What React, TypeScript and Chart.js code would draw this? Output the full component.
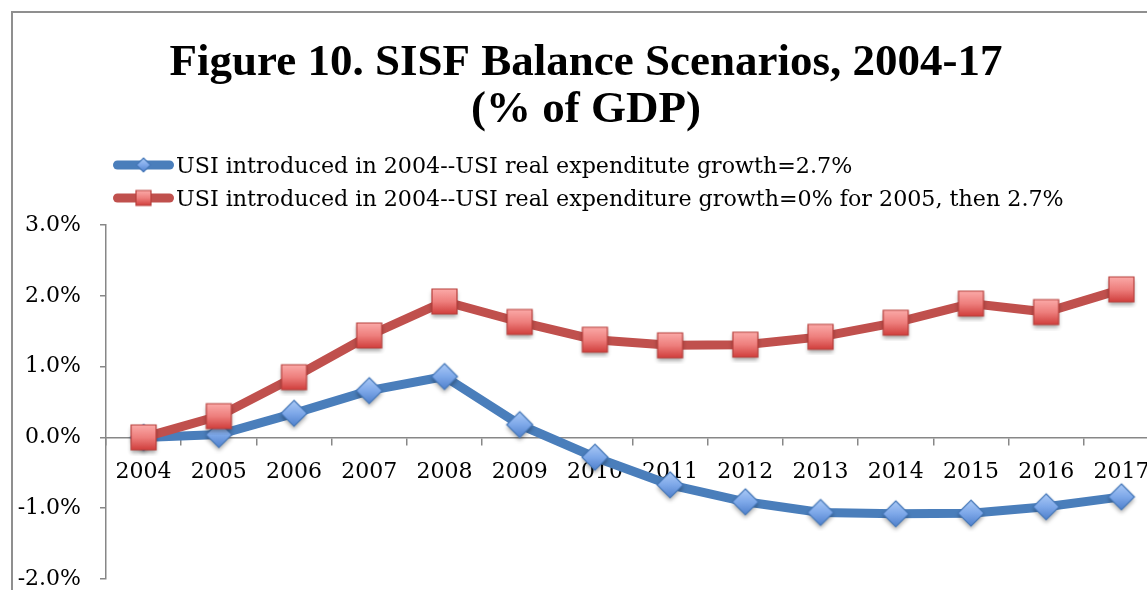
import React, { useEffect, useRef } from 'react';
import { Chart, registerables } from 'chart.js';

Chart.register(...registerables);

const years = ['2004', '2005', '2006', '2007', '2008', '2009', '2010', '2011', '2012', '2013', '2014', '2015', '2016', '2017'];
const usiGrowth = [0.0, 0.04, 0.34, 0.66, 0.86, 0.18, -0.28, -0.67, -0.91, -1.06, -1.08, -1.07, -0.98, -0.84];
const usiZeroThenGrowth = [0.0, 0.30, 0.85, 1.44, 1.92, 1.63, 1.38, 1.30, 1.31, 1.42, 1.62, 1.89, 1.77, 2.09];
const seriesLabels = [
  'USI introduced in 2004--USI real expenditute growth=2.7%',
  'USI introduced in 2004--USI real expenditure growth=0% for 2005, then 2.7%',
];
const titleLines = ['Figure 10. SISF Balance Scenarios, 2004-17', '(% of GDP)'];
const yMin = -2;
const yMax = 3;
const yStep = 1;

const BLUE = '#4a7ebb';
const RED = '#c0504d';
const AXIS = '#878787';
const SERIF = '"DejaVu Serif", serif';

type MarkerKind = 'diamond' | 'square';

function makeMarker(kind: MarkerKind, r: number, stops: string[], stroke: string, shadow: boolean) {
  const pad = 6;
  const size = Math.ceil(2 * r + 2 * pad);
  const c = document.createElement('canvas');
  c.width = size;
  c.height = size;
  const g = c.getContext('2d')!;
  const cx = size / 2;
  const path = () => {
    g.beginPath();
    if (kind === 'diamond') {
      g.moveTo(cx, cx - r);
      g.lineTo(cx + r, cx);
      g.lineTo(cx, cx + r);
      g.lineTo(cx - r, cx);
    } else {
      g.rect(cx - r, cx - r, 2 * r, 2 * r);
    }
    g.closePath();
  };
  if (shadow) {
    g.save();
    g.shadowColor = 'rgba(0,0,0,0.35)';
    g.shadowBlur = 4;
    g.shadowOffsetY = 3;
    path();
    g.fillStyle = stroke;
    g.fill();
    g.restore();
  }
  const grad = g.createLinearGradient(0, cx - r, 0, cx + r);
  stops.forEach((s, i) => grad.addColorStop(i / (stops.length - 1), s));
  path();
  g.fillStyle = grad;
  g.fill();
  g.lineWidth = 1.2;
  g.strokeStyle = stroke;
  g.stroke();
  return c;
}

const BLUE_STOPS = ['#abcaf6', '#7ea8e9', '#4f80cc'];
const RED_STOPS = ['#fbaaa8', '#ee7f7d', '#d03e3c'];

export default function App() {
  const ref = useRef<HTMLCanvasElement>(null);

  useEffect(() => {
    const canvas = ref.current!;
    const diamond = makeMarker('diamond', 13, BLUE_STOPS, '#4678b8', true);
    const square = makeMarker('square', 12.5, RED_STOPS, '#b8403d', true);
    const diamondSmall = makeMarker('diamond', 7, BLUE_STOPS, '#4678b8', false);
    const squareSmall = makeMarker('square', 7.5, RED_STOPS, '#b8403d', false);
    const legendImgs = [diamondSmall, squareSmall];

    const legendPlugin = {
      id: 'customLegend',
      afterDraw(chart: any) {
        const ctx = chart.ctx as CanvasRenderingContext2D;
        const rows = [152, 185];
        ctx.save();
        chart.data.datasets.forEach((ds: any, i: number) => {
          const y = rows[i];
          ctx.beginPath();
          ctx.lineCap = 'round';
          ctx.lineWidth = 9;
          ctx.strokeStyle = ds.borderColor;
          ctx.moveTo(104.5, y);
          ctx.lineTo(156.5, y);
          ctx.stroke();
          const img = legendImgs[i];
          ctx.drawImage(img, 130.5 - img.width / 2, y - img.height / 2);
          ctx.fillStyle = '#000';
          ctx.font = `22.2px ${SERIF}`;
          ctx.textBaseline = 'alphabetic';
          ctx.textAlign = 'left';
          ctx.fillText(ds.label, 163, y + 8);
        });
        ctx.restore();
      },
    };

    const tickFont = { family: SERIF, size: 22 };

    const chart = new Chart(canvas, {
      type: 'line',
      data: {
        labels: years,
        datasets: [
          {
            label: seriesLabels[0],
            data: usiGrowth,
            borderColor: BLUE,
            backgroundColor: BLUE,
            borderWidth: 9,
            pointStyle: diamond as any,
            pointRadius: 12,
            tension: 0,
            order: 1,
            clip: false as any,
          },
          {
            label: seriesLabels[1],
            data: usiZeroThenGrowth,
            borderColor: RED,
            backgroundColor: RED,
            borderWidth: 9,
            pointStyle: square as any,
            pointRadius: 12,
            tension: 0,
            order: 0,
            clip: false as any,
          },
        ],
      },
      options: {
        responsive: false,
        animation: false,
        devicePixelRatio: 1,
        layout: { autoPadding: false, padding: { top: 0, left: 0, right: 0, bottom: 34 } },
        plugins: {
          legend: { display: false },
          tooltip: { enabled: false },
          title: {
            display: true,
            text: titleLines,
            color: '#000',
            font: { family: '"Liberation Serif", serif', size: 45, weight: 'bold', lineHeight: '47px' } as any,
            padding: { top: 27, bottom: 91 },
          },
        },
        scales: {
          x: {
            type: 'category',
            offset: true,
            position: { y: 0 } as any,
            afterFit: (s: any) => {
              s.paddingLeft = 0;
              s.paddingRight = 0;
            },
            grid: { offset: true, drawOnChartArea: false, drawTicks: true, tickLength: 7, color: AXIS, lineWidth: 1.5 },
            border: { display: true, color: AXIS, width: 1.5 },
            ticks: { font: tickFont, color: '#000', padding: 15, maxRotation: 0, autoSkip: false },
          },
          y: {
            min: yMin,
            max: yMax,
            afterFit: (s: any) => {
              s.width = 93;
            },
            grid: { drawOnChartArea: false, drawTicks: true, tickLength: 6, color: AXIS, lineWidth: 1.5 },
            border: { display: true, color: AXIS, width: 1.5 },
            ticks: {
              stepSize: yStep,
              padding: 19,
              font: tickFont,
              color: '#000',
              callback: (v: any) => Number(v).toFixed(1) + '%',
            },
          },
        },
      },
      plugins: [legendPlugin],
    });
    return () => chart.destroy();
  }, []);

  return (
    <div style={{ position: 'absolute', left: 0, top: 0, width: 1147, height: 590, overflow: 'hidden', background: '#fff' }}>
      <div
        style={{
          position: 'absolute',
          left: 11,
          top: 11,
          width: 1300,
          height: 800,
          border: '2px solid #8f8f8f',
          boxSizing: 'border-box',
        }}
      />
      <canvas
        ref={ref}
        width={1146}
        height={600}
        style={{ position: 'absolute', left: 13, top: 13, width: 1146, height: 600 }}
      />
    </div>
  );
}
